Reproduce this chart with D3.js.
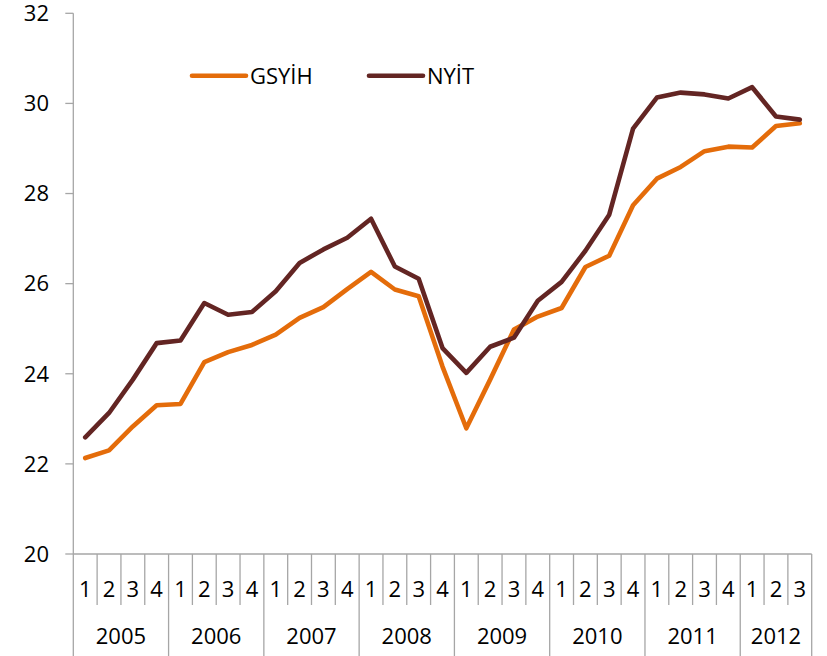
<!DOCTYPE html>
<html>
<head>
<meta charset="utf-8">
<script src="https://cdn.jsdelivr.net/npm/d3@7"></script>
<style>
  html, body { margin: 0; padding: 0; background: #fff; }
  svg { display: block; }
  text { font-family: "Open Sans", "DejaVu Sans", sans-serif; fill: #000; }
</style>
</head>
<body>
<svg id="chart" width="827" height="656"></svg>
<script>
const years = ["2005","2006","2007","2008","2009","2010","2011","2012"];
const quartersPerYear = [4,4,4,4,4,4,4,3];
const yTicks = [20,22,24,26,28,30,32];
const seriesNames = ["GSYİH","NYİT"];
const gsyih = [22.13,22.30,22.83,23.30, 23.33,24.26,24.48,24.64,
               24.87,25.24,25.48,25.88, 26.26,25.87,25.72,24.16,
               22.79,23.87,24.98,25.27, 25.46,26.37,26.62,27.74,
               28.33,28.59,28.94,29.04, 29.02,29.50,29.56];
const nyit  = [22.59,23.13,23.87,24.68, 24.74,25.57,25.31,25.37,
               25.83,26.46,26.76,27.02, 27.44,26.38,26.11,24.57,
               24.02,24.60,24.80,25.62, 26.04,26.73,27.53,29.44,
               30.13,30.24,30.20,30.11, 30.36,29.71,29.64];
const colors = ["#E46C0A","#632523"];

(function () {
  const cats = [];
  years.forEach((yr, yi) => {
    for (let q = 1; q <= quartersPerYear[yi]; q++) cats.push({year: yr, q: q, id: yr + "-" + q});
  });

  const svg = d3.select("#chart");
  const pLeft = 73.3, pRight = 811.7, pTop = 13.3, pBottom = 554;
  const x = d3.scaleBand().domain(cats.map(d => d.id)).range([pLeft, pRight]).padding(0);
  const y = d3.scaleLinear().domain([20, 32]).range([pBottom, pTop]);
  const axisColor = "#a6a6a6";
  const fs = 22;

  const ga = svg.append("g");
  ga.append("line").attr("x1", pLeft).attr("x2", pLeft).attr("y1", pTop).attr("y2", pBottom)
    .attr("stroke", axisColor).attr("stroke-width", 1.3);
  yTicks.forEach(t => {
    ga.append("line").attr("x1", pLeft - 8).attr("x2", pLeft).attr("y1", y(t)).attr("y2", y(t))
      .attr("stroke", axisColor).attr("stroke-width", 1.3);
    ga.append("text").attr("x", 49).attr("y", y(t) + 7.8).attr("text-anchor", "end")
      .attr("font-size", fs).text(t);
  });

  ga.append("line").attr("x1", pLeft).attr("x2", pRight).attr("y1", pBottom).attr("y2", pBottom)
    .attr("stroke", axisColor).attr("stroke-width", 1.3);

  cats.forEach((c) => {
    const xx = x(c.id);
    const isYearStart = c.q === 1;
    ga.append("line").attr("x1", xx).attr("x2", xx).attr("y1", pBottom)
      .attr("y2", isYearStart ? 656 : 605)
      .attr("stroke", axisColor).attr("stroke-width", 1.3);
    ga.append("text").attr("x", xx + x.bandwidth() / 2).attr("y", 597)
      .attr("text-anchor", "middle").attr("font-size", fs).text(c.q);
  });
  ga.append("line").attr("x1", pRight).attr("x2", pRight).attr("y1", pBottom).attr("y2", 656)
    .attr("stroke", axisColor).attr("stroke-width", 1.3);

  years.forEach((yr) => {
    const yc = cats.filter(c => c.year === yr);
    const x0 = x(yc[0].id), x1 = x(yc[yc.length - 1].id) + x.bandwidth();
    ga.append("text").attr("x", (x0 + x1) / 2).attr("y", 643.5)
      .attr("text-anchor", "middle").attr("font-size", fs).text(yr);
  });

  const line = d3.line().x((d, i) => x(cats[i].id) + x.bandwidth() / 2).y(d => y(d));
  [gsyih, nyit].forEach((s, si) => {
    svg.append("path").datum(s).attr("d", line).attr("fill", "none")
      .attr("stroke", colors[si]).attr("stroke-width", 4.6)
      .attr("stroke-linejoin", "round").attr("stroke-linecap", "round");
  });

  const legendX = [192, 369];
  seriesNames.forEach((n, i) => {
    svg.append("line").attr("x1", legendX[i]).attr("x2", legendX[i] + 54)
      .attr("y1", 75.7).attr("y2", 75.7).attr("stroke", colors[i])
      .attr("stroke-width", 4.6).attr("stroke-linecap", "round");
    svg.append("text").attr("x", legendX[i] + 58).attr("y", 84)
      .attr("font-size", 22).text(n);
  });
})();
</script>
</body>
</html>
